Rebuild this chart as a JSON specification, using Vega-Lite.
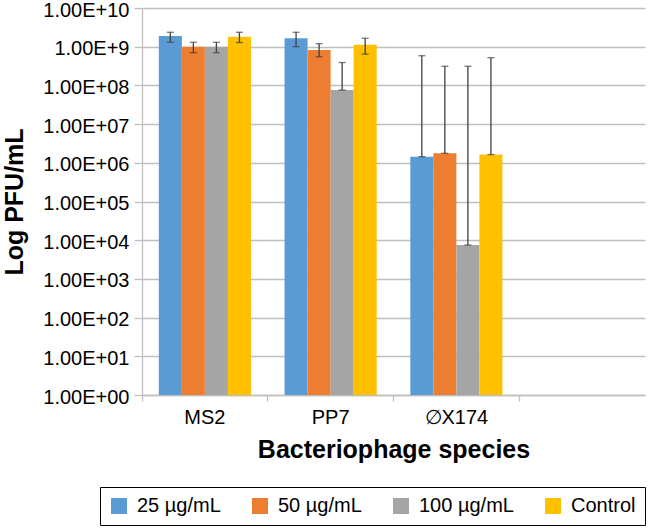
{
  "$schema": "https://vega.github.io/schema/vega-lite/v6.json",
  "width": 503,
  "height": 387,
  "autosize": {"type": "none"},
  "padding": {"left": 142, "top": 8, "right": 6, "bottom": 133},
  "background": "white",
  "config": {
    "font": "Liberation Sans",
    "view": {"stroke": null},
    "axis": {"labelColor": "#000000", "titleColor": "#000000"}
  },
  "data": {
    "values": [
      {"phage": "MS2", "conc": "25 µg/mL", "value": 1.89e9, "lo": 1.30e9, "hi": 2.36e9},
      {"phage": "MS2", "conc": "50 µg/mL", "value": 1.0e9, "lo": 7.0e8, "hi": 1.3e9},
      {"phage": "MS2", "conc": "100 µg/mL", "value": 1.0e9, "lo": 7.0e8, "hi": 1.3e9},
      {"phage": "MS2", "conc": "Control", "value": 1.82e9, "lo": 1.28e9, "hi": 2.36e9},
      {"phage": "PP7", "conc": "25 µg/mL", "value": 1.65e9, "lo": 1.0e9, "hi": 2.36e9},
      {"phage": "PP7", "conc": "50 µg/mL", "value": 8.2e8, "lo": 5.5e8, "hi": 1.2e9},
      {"phage": "PP7", "conc": "100 µg/mL", "value": 7.6e7, "lo": 7.6e7, "hi": 3.9e8},
      {"phage": "PP7", "conc": "Control", "value": 1.13e9, "lo": 6.4e8, "hi": 1.65e9},
      {"phage": "∅X174", "conc": "25 µg/mL", "value": 1.44e6, "lo": 1.44e6, "hi": 5.85e8},
      {"phage": "∅X174", "conc": "50 µg/mL", "value": 1.76e6, "lo": 1.76e6, "hi": 3.12e8},
      {"phage": "∅X174", "conc": "100 µg/mL", "value": 7.5e3, "lo": 7.5e3, "hi": 3.12e8},
      {"phage": "∅X174", "conc": "Control", "value": 1.63e6, "lo": 1.63e6, "hi": 5.2e8}
    ]
  },
  "encoding": {
    "x": {
      "field": "phage",
      "type": "nominal",
      "scale": {"domain": ["MS2", "PP7", "∅X174", " "], "paddingInner": 0, "paddingOuter": 0},
      "axis": {
        "title": "Bacteriophage species",
        "titleFontSize": 25,
        "titleFontWeight": "bold",
        "titlePadding": 10,
        "labelFontSize": 20,
        "labelAngle": 0,
        "labelPadding": 6,
        "tickSize": 6,
        "tickColor": "#bfbfbf",
        "tickWidth": 1.3,
        "domainColor": "#bfbfbf",
        "domainWidth": 1.3,
        "bandPosition": 0,
        "grid": false
      }
    },
    "xOffset": {
      "field": "conc",
      "type": "nominal",
      "scale": {"domain": ["25 µg/mL", "50 µg/mL", "100 µg/mL", "Control"], "paddingInner": 0, "paddingOuter": 0.73}
    }
  },
  "layer": [
    {
      "mark": {"type": "bar"},
      "encoding": {
        "y": {
          "field": "value",
          "type": "quantitative",
          "scale": {"type": "log", "domain": [1, 1e10], "nice": false},
          "axis": {
            "title": "Log PFU/mL",
            "titleFontSize": 25,
            "titleFontWeight": "bold",
            "titlePadding": 15,
            "values": [1, 10, 100, 1000, 10000, 100000, 1000000, 10000000, 100000000, 1000000000, 10000000000],
            "labelExpr": "'1.00E+' + (datum.value < 1e9 ? '0' : '') + round(log(datum.value) / LN10)",
            "labelFontSize": 20,
            "labelPadding": 5,
            "labelOffset": 2,
            "tickSize": 8,
            "tickColor": "#bfbfbf",
            "tickWidth": 1.3,
            "domainColor": "#bfbfbf",
            "domainWidth": 1.3,
            "grid": true,
            "gridColor": "#bfbfbf",
            "gridWidth": 1.5
          }
        },
        "y2": {"datum": 1},
        "color": {
          "field": "conc",
          "type": "nominal",
          "scale": {
            "domain": ["25 µg/mL", "50 µg/mL", "100 µg/mL", "Control"],
            "range": ["#5B9BD5", "#ED7D31", "#A5A5A5", "#FFC000"]
          },
          "legend": {
            "title": null,
            "orient": "none",
            "legendX": -42,
            "legendY": 479,
            "direction": "horizontal",
            "symbolType": "square",
            "symbolSize": 256,
            "symbolStrokeWidth": 0,
            "labelFontSize": 20,
            "labelColor": "#000000",
            "labelOffset": 8,
            "columnPadding": 29,
            "padding": 9,
            "strokeColor": "#000000",
            "fillColor": "#ffffff"
          }
        }
      }
    },
    {
      "mark": {"type": "rule", "color": "#404040", "strokeWidth": 1.3},
      "encoding": {
        "y": {"field": "lo", "type": "quantitative"},
        "y2": {"field": "hi"}
      }
    },
    {
      "mark": {"type": "tick", "color": "#404040", "thickness": 1.3, "size": 7, "orient": "horizontal"},
      "encoding": {
        "y": {"field": "hi", "type": "quantitative"}
      }
    },
    {
      "mark": {"type": "tick", "color": "#404040", "thickness": 1.3, "size": 7, "orient": "horizontal"},
      "encoding": {
        "y": {"field": "lo", "type": "quantitative"}
      }
    }
  ]
}
